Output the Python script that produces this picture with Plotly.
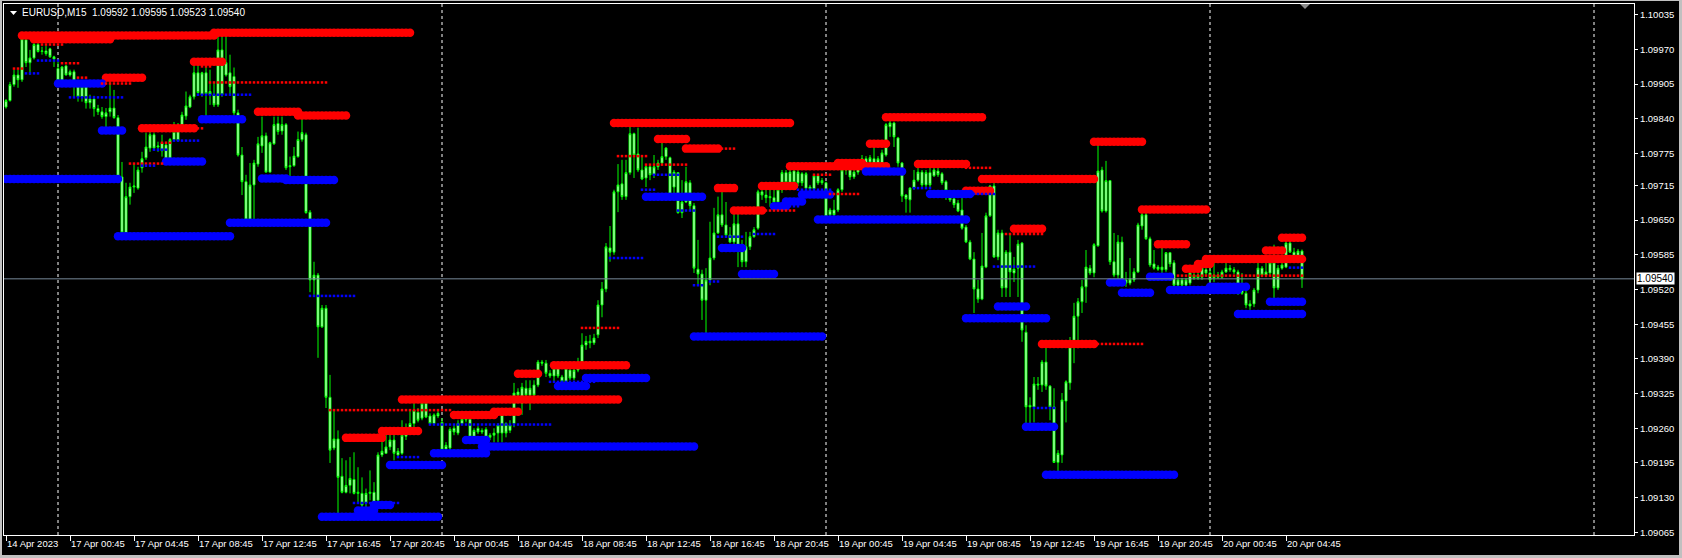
import plotly.graph_objects as go

# ---------------- data (EURUSD M15, bar 0 = 14 Apr 2023 20:45) ----------------
open_ = [
1.09862,1.09874,1.09904,1.09922,1.09913,1.09988,1.09945,1.09954,1.09979,1.09966,
1.09967,1.09971,1.09956,1.09934,1.09911,1.09939,1.09922,1.09928,1.09902,1.09881,
1.09904,1.09870,1.09877,1.09859,1.09853,1.09844,1.09853,1.09860,1.09842,1.09731,
1.09626,1.09694,1.09712,1.09710,1.09748,1.09767,1.09785,1.09810,1.09787,1.09795,
1.09791,1.09763,1.09801,1.09816,1.09827,1.09845,1.09862,1.09881,1.09926,1.09885,
1.09926,1.09885,1.09885,1.09866,1.09969,1.09922,1.09926,1.09919,1.09851,1.09772,
1.09722,1.09650,1.09716,1.09755,1.09789,1.09808,1.09740,1.09793,1.09831,1.09817,
1.09829,1.09750,1.09752,1.09769,1.09801,1.09810,1.09665,1.09538,1.09547,1.09450,
1.09485,1.09318,1.09223,1.09240,1.09170,1.09140,1.09153,1.09164,1.09138,1.09138,
1.09120,1.09138,1.09140,1.09125,1.09210,1.09213,1.09225,1.09238,1.09210,1.09213,
1.09245,1.09256,1.09269,1.09290,1.09279,1.09307,1.09283,1.09269,1.09283,1.09271,
1.09221,1.09223,1.09260,1.09251,1.09269,1.09277,1.09277,1.09243,1.09260,1.09253,
1.09258,1.09243,1.09247,1.09251,1.09251,1.09269,1.09256,1.09269,1.09328,1.09307,
1.09335,1.09322,1.09341,1.09341,1.09384,1.09382,1.09363,1.09358,1.09373,1.09356,
1.09347,1.09369,1.09354,1.09369,1.09384,1.09416,1.09423,1.09420,1.09435,1.09491,
1.09521,1.09598,1.09590,1.09703,1.09718,1.09694,1.09739,1.09812,1.09774,1.09744,
1.09729,1.09750,1.09735,1.09750,1.09757,1.09769,1.09767,1.09712,1.09739,1.09664,
1.09684,1.09720,1.09677,1.09558,1.09549,1.09500,1.09538,1.09579,1.09626,1.09660,
1.09641,1.09622,1.09609,1.09643,1.09594,1.09572,1.09600,1.09619,1.09635,1.09703,
1.09697,1.09692,1.09692,1.09684,1.09707,1.09739,1.09720,1.09742,1.09720,1.09737,
1.09710,1.09712,1.09709,1.09733,1.09720,1.09720,1.09660,1.09669,1.09669,1.09707,
1.09744,1.09748,1.09731,1.09740,1.09755,1.09765,1.09759,1.09765,1.09754,1.09757,
1.09772,1.09825,1.09832,1.09804,1.09757,1.09697,1.09688,1.09710,1.09725,1.09740,
1.09716,1.09739,1.09733,1.09742,1.09737,1.09722,1.09694,1.09690,1.09682,1.09669,
1.09637,1.09609,1.09577,1.09521,1.09502,1.09562,1.09658,1.09714,1.09581,1.09626,
1.09523,1.09590,1.09551,1.09560,1.09607,1.09440,1.09300,1.09300,1.09343,1.09341,
1.09384,1.09339,1.09300,1.09196,1.09210,1.09311,1.09345,1.09412,1.09470,1.09497,
1.09525,1.09560,1.09551,1.09602,1.09744,1.09667,1.09724,1.09572,1.09547,1.09609,
1.09538,1.09532,1.09538,1.09553,1.09639,1.09660,1.09615,1.09568,1.09562,1.09557,
1.09557,1.09589,1.09570,1.09528,1.09538,1.09528,1.09532,1.09547,1.09542,1.09543,
1.09557,1.09551,1.09542,1.09547,1.09543,1.09553,1.09560,1.09557,1.09553,1.09528,
1.09513,1.09489,1.09493,1.09519,1.09560,1.09547,1.09551,1.09570,1.09523,1.09560,
1.09562,1.09607,1.09590,1.09581,1.09592]

high = [
1.09877,1.09909,1.09932,1.09932,1.09996,1.09990,1.09969,1.09982,1.09984,1.09975,
1.09977,1.09973,1.09958,1.09947,1.09939,1.09941,1.09932,1.09932,1.09913,1.09907,
1.09909,1.09885,1.09883,1.09866,1.09862,1.09860,1.09909,1.09894,1.09847,1.09759,
1.09720,1.09720,1.09757,1.09750,1.09778,1.09814,1.09819,1.09814,1.09797,1.09810,
1.09797,1.09804,1.09834,1.09832,1.09853,1.09891,1.09885,1.09941,1.09941,1.09928,
1.09945,1.09932,1.09907,1.09995,1.10001,1.09997,1.09960,1.09936,1.09857,1.09787,
1.09735,1.09757,1.09763,1.09806,1.09844,1.09814,1.09797,1.09844,1.09844,1.09844,
1.09832,1.09769,1.09787,1.09816,1.09844,1.09814,1.09669,1.09572,1.09551,1.09491,
1.09491,1.09360,1.09294,1.09256,1.09204,1.09200,1.09206,1.09215,1.09187,1.09168,
1.09147,1.09181,1.09159,1.09215,1.09243,1.09251,1.09256,1.09262,1.09223,1.09275,
1.09269,1.09294,1.09307,1.09298,1.09313,1.09309,1.09288,1.09288,1.09294,1.09279,
1.09234,1.09262,1.09266,1.09275,1.09281,1.09281,1.09279,1.09260,1.09264,1.09260,
1.09262,1.09251,1.09260,1.09269,1.09290,1.09271,1.09275,1.09345,1.09335,1.09345,
1.09350,1.09350,1.09350,1.09388,1.09388,1.09388,1.09369,1.09375,1.09377,1.09360,
1.09377,1.09373,1.09377,1.09392,1.09438,1.09433,1.09435,1.09437,1.09500,1.09534,
1.09607,1.09639,1.09707,1.09755,1.09763,1.09763,1.09832,1.09814,1.09823,1.09769,
1.09754,1.09754,1.09772,1.09763,1.09797,1.09787,1.09769,1.09744,1.09740,1.09725,
1.09750,1.09725,1.09682,1.09613,1.09557,1.09560,1.09647,1.09673,1.09694,1.09707,
1.09684,1.09637,1.09664,1.09664,1.09613,1.09628,1.09628,1.09637,1.09707,1.09707,
1.09707,1.09710,1.09712,1.09716,1.09744,1.09744,1.09744,1.09748,1.09744,1.09740,
1.09740,1.09716,1.09737,1.09737,1.09729,1.09722,1.09673,1.09688,1.09710,1.09754,
1.09757,1.09754,1.09748,1.09754,1.09772,1.09770,1.09772,1.09787,1.09770,1.09782,
1.09832,1.09843,1.09834,1.09806,1.09759,1.09699,1.09712,1.09744,1.09750,1.09744,
1.09744,1.09748,1.09750,1.09748,1.09740,1.09725,1.09697,1.09692,1.09688,1.09694,
1.09641,1.09613,1.09590,1.09538,1.09626,1.09664,1.09716,1.09720,1.09632,1.09632,
1.09594,1.09626,1.09581,1.09613,1.09609,1.09453,1.09318,1.09356,1.09356,1.09388,
1.09412,1.09341,1.09335,1.09219,1.09326,1.09350,1.09431,1.09495,1.09504,1.09538,
1.09594,1.09566,1.09607,1.09797,1.09750,1.09761,1.09725,1.09626,1.09622,1.09619,
1.09553,1.09579,1.09560,1.09645,1.09665,1.09664,1.09619,1.09594,1.09566,1.09600,
1.09590,1.09590,1.09575,1.09542,1.09542,1.09542,1.09562,1.09553,1.09553,1.09566,
1.09560,1.09566,1.09570,1.09553,1.09557,1.09570,1.09566,1.09562,1.09557,1.09551,
1.09523,1.09500,1.09523,1.09570,1.09564,1.09570,1.09575,1.09604,1.09566,1.09581,
1.09617,1.09613,1.09598,1.09596,1.09595]

low = [
1.09859,1.09872,1.09900,1.09898,1.09909,1.09937,1.09922,1.09951,1.09964,1.09960,
1.09958,1.09954,1.09937,1.09909,1.09907,1.09921,1.09919,1.09881,1.09872,1.09872,
1.09859,1.09859,1.09844,1.09847,1.09840,1.09823,1.09844,1.09840,1.09729,1.09613,
1.09619,1.09679,1.09701,1.09707,1.09739,1.09763,1.09778,1.09782,1.09778,1.09769,
1.09759,1.09761,1.09799,1.09797,1.09823,1.09838,1.09860,1.09876,1.09887,1.09881,
1.09844,1.09866,1.09862,1.09862,1.09881,1.09919,1.09885,1.09847,1.09769,1.09697,
1.09641,1.09648,1.09650,1.09750,1.09776,1.09739,1.09739,1.09791,1.09810,1.09810,
1.09744,1.09731,1.09750,1.09767,1.09797,1.09662,1.09515,1.09510,1.09392,1.09448,
1.09298,1.09195,1.09219,1.09100,1.09138,1.09138,1.09138,1.09136,1.09120,1.09112,
1.09112,1.09125,1.09112,1.09120,1.09206,1.09213,1.09219,1.09200,1.09206,1.09210,
1.09238,1.09253,1.09262,1.09271,1.09275,1.09279,1.09266,1.09266,1.09279,1.09215,
1.09215,1.09219,1.09247,1.09247,1.09266,1.09271,1.09241,1.09238,1.09249,1.09249,
1.09241,1.09238,1.09234,1.09234,1.09234,1.09243,1.09251,1.09262,1.09307,1.09285,
1.09318,1.09294,1.09318,1.09337,1.09377,1.09356,1.09354,1.09347,1.09354,1.09343,
1.09343,1.09350,1.09350,1.09365,1.09373,1.09407,1.09410,1.09416,1.09429,1.09468,
1.09515,1.09572,1.09585,1.09665,1.09688,1.09688,1.09735,1.09729,1.09740,1.09725,
1.09712,1.09725,1.09729,1.09744,1.09754,1.09763,1.09688,1.09694,1.09662,1.09654,
1.09682,1.09669,1.09551,1.09528,1.09463,1.09438,1.09528,1.09575,1.09624,1.09637,
1.09619,1.09607,1.09600,1.09562,1.09562,1.09562,1.09594,1.09617,1.09632,1.09688,
1.09682,1.09675,1.09675,1.09682,1.09701,1.09710,1.09716,1.09716,1.09714,1.09714,
1.09707,1.09703,1.09707,1.09716,1.09716,1.09654,1.09656,1.09650,1.09665,1.09703,
1.09735,1.09725,1.09727,1.09735,1.09750,1.09752,1.09754,1.09750,1.09750,1.09754,
1.09769,1.09806,1.09787,1.09750,1.09684,1.09664,1.09664,1.09707,1.09722,1.09712,
1.09712,1.09712,1.09731,1.09731,1.09716,1.09688,1.09684,1.09673,1.09665,1.09632,
1.09607,1.09575,1.09476,1.09495,1.09500,1.09560,1.09656,1.09579,1.09575,1.09506,
1.09506,1.09506,1.09534,1.09506,1.09422,1.09262,1.09260,1.09271,1.09332,1.09328,
1.09332,1.09275,1.09195,1.09176,1.09195,1.09271,1.09332,1.09382,1.09410,1.09476,
1.09495,1.09547,1.09543,1.09600,1.09664,1.09664,1.09566,1.09543,1.09538,1.09534,
1.09525,1.09528,1.09534,1.09551,1.09632,1.09613,1.09562,1.09557,1.09555,1.09551,
1.09553,1.09562,1.09525,1.09525,1.09525,1.09525,1.09528,1.09538,1.09538,1.09538,
1.09547,1.09534,1.09534,1.09540,1.09540,1.09551,1.09553,1.09549,1.09510,1.09510,
1.09485,1.09482,1.09487,1.09513,1.09543,1.09543,1.09547,1.09500,1.09519,1.09557,
1.09560,1.09589,1.09577,1.09577,1.09523]

close = [
1.09874,1.09904,1.09922,1.09913,1.09990,1.09945,1.09954,1.09979,1.09966,1.09967,
1.09962,1.09956,1.09952,1.09911,1.09937,1.09922,1.09928,1.09909,1.09881,1.09900,
1.09870,1.09877,1.09859,1.09853,1.09844,1.09851,1.09860,1.09842,1.09731,1.09626,
1.09694,1.09712,1.09714,1.09744,1.09765,1.09787,1.09810,1.09785,1.09789,1.09780,
1.09763,1.09801,1.09816,1.09799,1.09847,1.09864,1.09881,1.09926,1.09889,1.09926,
1.09887,1.09891,1.09866,1.09969,1.09885,1.09945,1.09900,1.09851,1.09772,1.09722,
1.09650,1.09716,1.09757,1.09793,1.09808,1.09740,1.09795,1.09829,1.09816,1.09829,
1.09748,1.09752,1.09770,1.09801,1.09814,1.09664,1.09538,1.09547,1.09450,1.09485,
1.09318,1.09219,1.09240,1.09168,1.09140,1.09153,1.09166,1.09138,1.09140,1.09116,
1.09138,1.09140,1.09120,1.09210,1.09217,1.09225,1.09238,1.09213,1.09217,1.09247,
1.09251,1.09269,1.09294,1.09275,1.09307,1.09281,1.09269,1.09285,1.09288,1.09219,
1.09228,1.09258,1.09253,1.09269,1.09277,1.09276,1.09243,1.09256,1.09253,1.09256,
1.09243,1.09247,1.09251,1.09266,1.09286,1.09251,1.09266,1.09326,1.09322,1.09337,
1.09322,1.09335,1.09322,1.09384,1.09382,1.09363,1.09358,1.09373,1.09358,1.09347,
1.09373,1.09354,1.09369,1.09384,1.09416,1.09423,1.09420,1.09429,1.09491,1.09521,
1.09600,1.09590,1.09703,1.09716,1.09694,1.09739,1.09812,1.09772,1.09744,1.09727,
1.09750,1.09735,1.09750,1.09757,1.09769,1.09785,1.09697,1.09740,1.09664,1.09684,
1.09722,1.09677,1.09560,1.09549,1.09500,1.09538,1.09579,1.09626,1.09660,1.09641,
1.09622,1.09609,1.09643,1.09594,1.09572,1.09600,1.09619,1.09632,1.09703,1.09697,
1.09692,1.09694,1.09684,1.09707,1.09739,1.09720,1.09740,1.09720,1.09740,1.09720,
1.09737,1.09709,1.09733,1.09720,1.09724,1.09656,1.09669,1.09660,1.09707,1.09744,
1.09748,1.09731,1.09740,1.09748,1.09765,1.09755,1.09767,1.09754,1.09765,1.09776,
1.09829,1.09832,1.09806,1.09757,1.09695,1.09690,1.09710,1.09725,1.09740,1.09716,
1.09739,1.09716,1.09744,1.09735,1.09720,1.09705,1.09688,1.09679,1.09667,1.09635,
1.09609,1.09577,1.09521,1.09502,1.09564,1.09658,1.09714,1.09581,1.09626,1.09523,
1.09590,1.09553,1.09558,1.09605,1.09444,1.09300,1.09303,1.09343,1.09341,1.09384,
1.09339,1.09300,1.09196,1.09213,1.09313,1.09347,1.09416,1.09470,1.09497,1.09525,
1.09562,1.09551,1.09604,1.09742,1.09667,1.09724,1.09572,1.09547,1.09609,1.09538,
1.09532,1.09540,1.09553,1.09641,1.09660,1.09615,1.09566,1.09560,1.09558,1.09562,
1.09589,1.09568,1.09528,1.09538,1.09528,1.09538,1.09551,1.09542,1.09547,1.09560,
1.09551,1.09538,1.09547,1.09543,1.09553,1.09560,1.09557,1.09553,1.09528,1.09513,
1.09491,1.09493,1.09519,1.09560,1.09547,1.09553,1.09570,1.09523,1.09560,1.09566,
1.09607,1.09590,1.09581,1.09592,1.09540]

assert len(open_) == len(high) == len(low) == len(close), (len(open_), len(high), len(low), len(close))
bars = list(range(len(close)))

# resistance / support levels (bar start, bar end, price)
red_thick_start = [4, 7, 52, 47, 25, 63, 73, 34, 85, 94, 99, 112, 122, 128, 137, 152, 163, 170, 178, 182,
                   189, 196, 208, 216, 220, 228, 240, 244, 252, 259, 272, 284, 288, 295, 298, 300, 315, 319]
red_thick_end = [52, 26, 101, 54, 34, 73, 85, 47, 94, 103, 153, 122, 128, 133, 155, 196, 170, 178, 182, 189,
                 197, 220, 214, 220, 244, 240, 246, 272, 259, 272, 284, 300, 295, 298, 301, 324, 319, 324]
red_thick_level = [1.09996, 1.09989, 1.10001, 1.09947, 1.09917, 1.09853, 1.09846, 1.09822, 1.09242, 1.09255,
                   1.09314, 1.09285, 1.09291, 1.09362, 1.09378, 1.09832, 1.09802, 1.09784, 1.09710, 1.09668,
                   1.09714, 1.09751, 1.09757, 1.09793, 1.09843, 1.09755, 1.09705, 1.09727, 1.09634, 1.09418,
                   1.09797, 1.09670, 1.09605, 1.09559, 1.09568, 1.09577, 1.09593, 1.09617]

red_dot_start = [2, 9, 14, 18, 24, 51, 31, 39, 47, 49, 81, 153, 160, 144, 178, 189, 202, 206, 240, 250, 272, 293]
red_dot_end = [4, 14, 18, 20, 31, 80, 39, 41, 49, 51, 111, 160, 170, 153, 182, 197, 206, 213, 246, 259, 284, 324]
red_dot_level = [1.09934, 1.09979, 1.09944, 1.09917, 1.09906, 1.09908, 1.09756, 1.09795, 1.09822, 1.09938,
                 1.09294, 1.09770, 1.09754, 1.09448, 1.09784, 1.09668, 1.09735, 1.09699, 1.09748, 1.09624,
                 1.09418, 1.09546]

blue_thick_start = [0, 13, 24, 40, 49, 64, 70, 56, 28, 79, 88, 92, 96, 107, 119, 115, 138, 145, 160, 179,
                    184, 192, 195, 199, 203, 172, 215, 231, 248, 240, 276, 279, 286, 291, 301, 308, 316, 255, 260]
blue_thick_end = [28, 24, 29, 49, 59, 70, 82, 80, 56, 108, 92, 96, 109, 120, 172, 120, 145, 160, 174, 184,
                  192, 195, 199, 206, 240, 204, 224, 241, 255, 260, 279, 286, 291, 308, 310, 324, 324, 262, 292]
blue_thick_level = [1.09727, 1.09906, 1.09818, 1.09760, 1.09839, 1.09728, 1.09725, 1.09645, 1.09620, 1.09094,
                    1.09106, 1.09116, 1.09191, 1.09213, 1.09226, 1.09238, 1.09339, 1.09354, 1.09694, 1.09598,
                    1.09549, 1.09676, 1.09685, 1.09698, 1.09651, 1.09432, 1.09741, 1.09699, 1.09488, 1.09466,
                    1.09533, 1.09514, 1.09544, 1.09519, 1.09525, 1.09474, 1.09497, 1.09263, 1.09173]

blue_dot_start = [5, 8, 16, 48, 34, 37, 42, 76, 87, 98, 106, 136, 159, 162, 168, 151, 178, 187, 195, 198,
                  227, 241, 247, 257, 321, 172, 176]
blue_dot_end = [8, 13, 29, 61, 37, 40, 48, 87, 98, 103, 136, 147, 162, 168, 172, 159, 184, 192, 198, 206,
                231, 247, 257, 262, 324, 174, 178]
blue_dot_level = [1.09925, 1.09949, 1.09880, 1.09885, 1.09752, 1.09782, 1.09799, 1.09508, 1.09120, 1.09206,
                  1.09267, 1.09347, 1.09707, 1.09735, 1.09668, 1.09579, 1.09619, 1.09624, 1.09676, 1.09707,
                  1.09710, 1.09699, 1.09563, 1.09298, 1.09561, 1.09528, 1.09535]

time_tick_bars = [0, 16, 32, 48, 64, 80, 96, 112, 128, 144, 160, 176, 192, 208, 224, 240, 256, 272, 288, 304, 320]
time_tick_labels = ["14 Apr 2023", "17 Apr 00:45", "17 Apr 04:45", "17 Apr 08:45", "17 Apr 12:45",
                    "17 Apr 16:45", "17 Apr 20:45", "18 Apr 00:45", "18 Apr 04:45", "18 Apr 08:45",
                    "18 Apr 12:45", "18 Apr 16:45", "18 Apr 20:45", "19 Apr 00:45", "19 Apr 04:45",
                    "19 Apr 08:45", "19 Apr 12:45", "19 Apr 16:45", "19 Apr 20:45", "20 Apr 00:45",
                    "20 Apr 04:45"]
day_separator_bars = [13, 109, 205, 301, 397]
price_tick_labels = ["1.10035", "1.09970", "1.09905", "1.09840", "1.09775", "1.09715", "1.09650", "1.09585",
                     "1.09520", "1.09455", "1.09390", "1.09325", "1.09260", "1.09195", "1.09130", "1.09065"]
last_price = 1.09540
header = "EURUSD,M15\u00a0\u00a01.09592 1.09595 1.09523 1.09540"


def seg_points(starts, ends, levels):
    xs, ys = [], []
    for s, e, v in zip(starts, ends, levels):
        for b in range(s, e + 1):
            xs.append(b)
            ys.append(v)
    return xs, ys


W, H = 1682, 558
ML, MR, MT, MB = 4, 48, 4, 23
PW, PH = W - ML - MR, H - MT - MB


def px(xp):
    return (xp - ML) / PW


def py(yp):
    return (H - MB - yp) / PH


FONT = "Liberation Sans, Arial, sans-serif"
LIME = "#00FF00"

fig = go.Figure()
fig.add_trace(go.Candlestick(
    x=bars, open=open_, high=high, low=low, close=close,
    increasing=dict(line=dict(color=LIME, width=1), fillcolor="#FFFFFF"),
    decreasing=dict(line=dict(color=LIME, width=1), fillcolor="#FFFFFF"),
    whiskerwidth=0, showlegend=False, hoverinfo="skip"))

for (st, en, lv, col, sym, size) in [
        (red_thick_start, red_thick_end, red_thick_level, "#FF0000", "circle", 8.5),
        (blue_thick_start, blue_thick_end, blue_thick_level, "#0000FF", "circle", 8.5),
        (red_dot_start, red_dot_end, red_dot_level, "#FF0000", "square", 2.5),
        (blue_dot_start, blue_dot_end, blue_dot_level, "#0000FF", "square", 2.5)]:
    xs, ys = seg_points(st, en, lv)
    fig.add_trace(go.Scatter(x=xs, y=ys, mode="markers",
                             marker=dict(symbol=sym, size=size, color=col, line=dict(width=0)),
                             showlegend=False, hoverinfo="skip"))

shapes = []
for b in day_separator_bars:
    shapes.append(dict(type="line", xref="x", yref="paper", x0=b, x1=b, y0=0, y1=1,
                       line=dict(color="#FFFFFF", width=1, dash="3px,3px"), layer="below"))
shapes.append(dict(type="line", xref="paper", yref="y", x0=0, x1=1, y0=last_price, y1=last_price,
                   line=dict(color="#778899", width=1), layer="above"))
# header triangle
shapes.append(dict(type="path", xref="paper", yref="paper",
                   path=f"M {px(10)} {py(11)} L {px(17)} {py(11)} L {px(13.5)} {py(15)} Z",
                   fillcolor="#FFFFFF", line=dict(width=0)))
# chart shift marker
shapes.append(dict(type="path", xref="paper", yref="paper",
                   path=f"M {px(1300)} {py(4)} L {px(1310)} {py(4)} L {px(1305)} {py(9)} Z",
                   fillcolor="#8C8C8C", line=dict(width=0)))
# window border strips
for (x0, x1, y0, y1) in [(0, 2, 0, H), (W - 3, W, 0, H), (0, W, H - 3, H), (0, W, 0, 1)]:
    shapes.append(dict(type="rect", xref="paper", yref="paper",
                       x0=px(x0), x1=px(x1), y0=py(y1), y1=py(y0),
                       fillcolor="#C0C0C0", line=dict(width=0), layer="above"))

annotations = [
    dict(xref="paper", yref="paper", x=px(20), y=py(12.5), xanchor="left", yanchor="middle",
         text=header, showarrow=False, font=dict(family=FONT, size=10, color="#FFFFFF")),
    dict(xref="paper", yref="y", x=px(1636), y=last_price, xanchor="left", yanchor="middle",
         text="1.09540", showarrow=False, bgcolor="#FFFFFF", borderpad=0,
         font=dict(family=FONT, size=10, color="#000000")),
]

fig.update_layout(
    width=W, height=H,
    margin=dict(l=ML, r=MR, t=MT, b=MB, pad=0),
    paper_bgcolor="#000000", plot_bgcolor="#000000",
    showlegend=False,
    shapes=shapes, annotations=annotations,
    xaxis=dict(range=[-0.5, 407], showgrid=False, zeroline=False, showline=True, linecolor="#FFFFFF",
               linewidth=1, mirror=True, ticks="outside", ticklen=5, tickcolor="#FFFFFF", tickwidth=1,
               tickvals=time_tick_bars, ticktext=time_tick_labels, ticklabelposition="outside right",
               tickfont=dict(family=FONT, size=9.5, color="#FFFFFF"), rangeslider=dict(visible=False),
               automargin=False, fixedrange=True),
    yaxis=dict(range=[1.09060, 1.10055], side="right", showgrid=False, zeroline=False, showline=True,
               linecolor="#FFFFFF", linewidth=1, mirror=True, ticks="outside", ticklen=3,
               tickcolor="#FFFFFF", tickvals=[float(t) for t in price_tick_labels],
               ticktext=price_tick_labels, tickfont=dict(family=FONT, size=9.5, color="#FFFFFF"),
               automargin=False, fixedrange=True),
)

fig.write_html("out.html", config={"staticPlot": True},
               post_script="document.body.style.margin='0';document.body.style.overflow='hidden';"
                           "document.body.style.background='#000';")
